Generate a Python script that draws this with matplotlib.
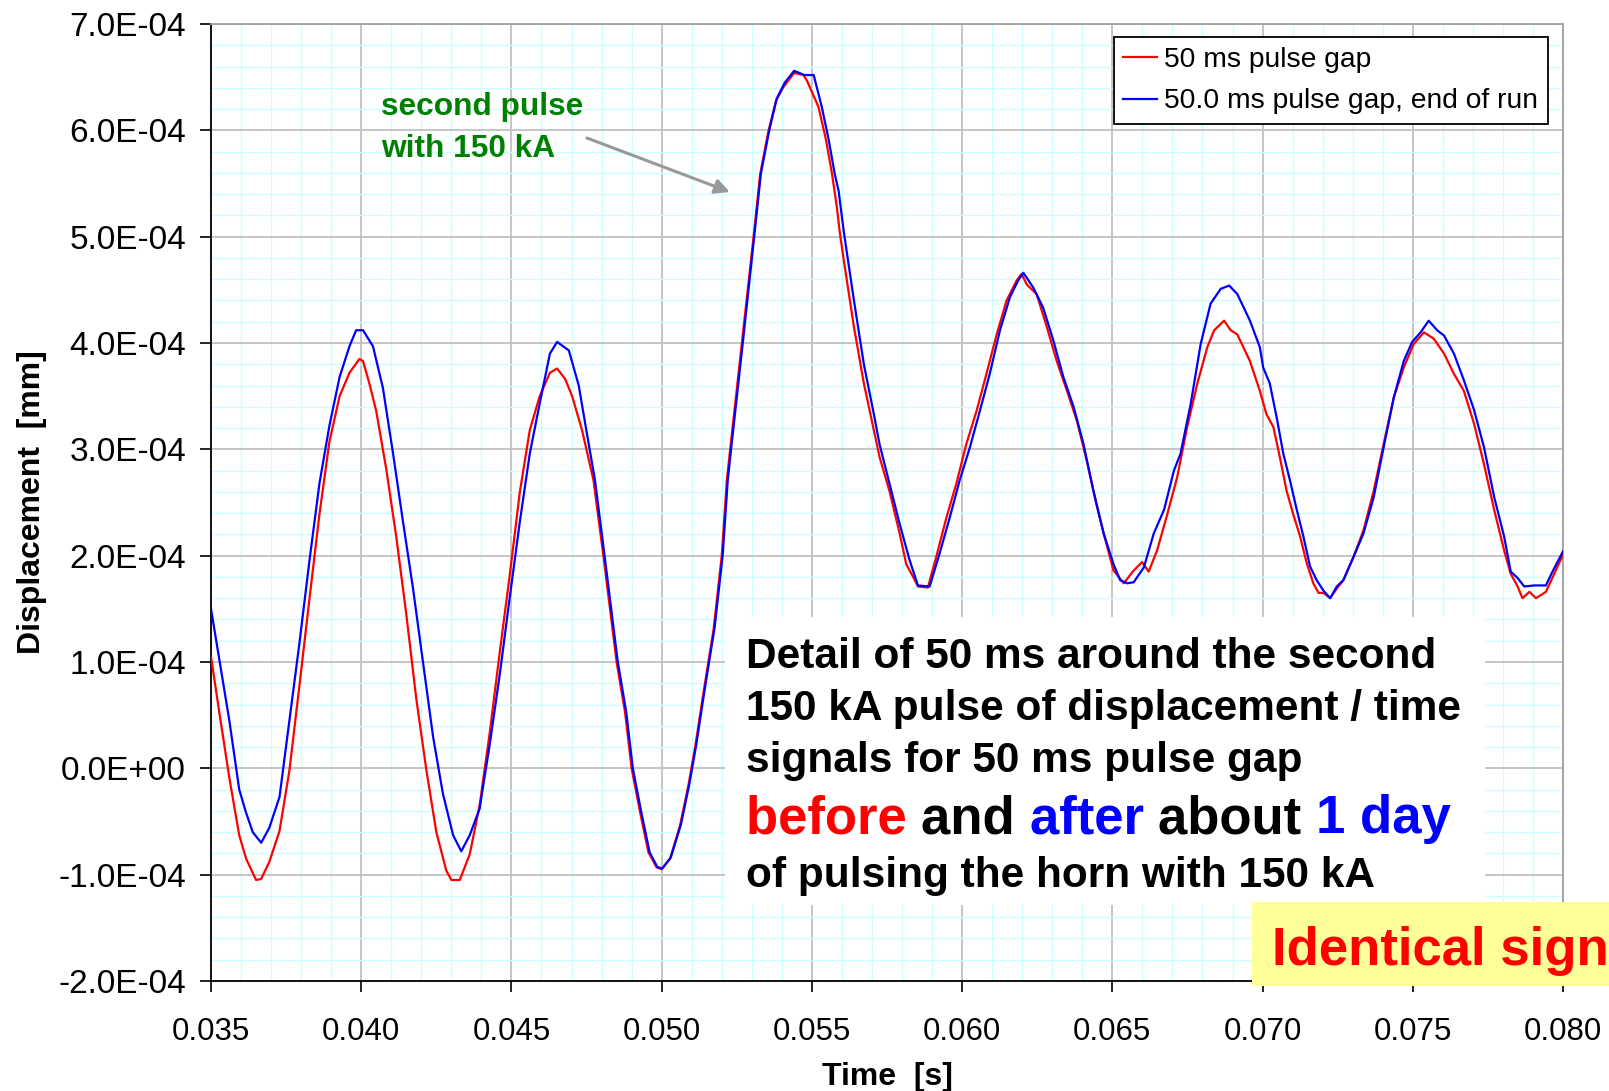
import matplotlib.pyplot as plt
import matplotlib.patches as patches
from matplotlib.ticker import MultipleLocator, FormatStrFormatter

plt.rcParams['font.family'] = 'Liberation Sans'

# time in ms, displacement in units of 1e-4 mm
t_before = [35.00, 35.28, 35.61, 35.94, 36.17, 36.50, 36.67, 36.94, 37.28, 37.61,
            37.94, 38.28, 38.61, 38.94, 39.28, 39.61, 39.94, 40.06, 40.28, 40.50,
            40.83, 41.17, 41.50, 41.83, 42.17, 42.50, 42.83, 43.00, 43.28, 43.61,
            43.94, 44.28, 44.61, 44.94, 45.28, 45.61, 45.94, 46.28, 46.52, 46.79,
            47.02, 47.35, 47.73, 48.06, 48.50, 48.78, 49.00, 49.28, 49.56, 49.83,
            50.00, 50.28, 50.61, 50.89, 51.12, 51.39, 51.73, 52.00, 52.17, 52.28,
            52.67, 53.06, 53.28, 53.56, 53.81, 54.06, 54.41, 54.72, 54.83, 55.22,
            55.47, 55.67, 55.83, 55.92, 56.06, 56.40, 56.73, 57.07, 57.25, 57.58,
            57.92, 58.14, 58.37, 58.53, 58.86, 59.14, 59.48, 59.81, 60.14, 60.48,
            60.81, 61.15, 61.48, 61.82, 61.98, 62.15, 62.48, 62.82, 63.15, 63.49,
            63.82, 64.15, 64.49, 64.71, 65.04, 65.38, 65.71, 65.99, 66.21, 66.49,
            66.83, 67.16, 67.49, 67.83, 68.16, 68.39, 68.72, 68.94, 69.16, 69.58,
            69.91, 70.13, 70.36, 70.58, 70.80, 71.02, 71.25, 71.47, 71.69, 71.86,
            72.03, 72.25, 72.47, 72.69, 73.03, 73.36, 73.70, 74.03, 74.37, 74.70,
            75.03, 75.37, 75.70, 76.04, 76.37, 76.70, 77.04, 77.37, 77.71, 78.04,
            78.26, 78.49, 78.65, 78.88, 79.10, 79.43, 79.71, 80.00]
d_before = [1.05, 0.52, -0.09, -0.63, -0.85, -1.05, -1.04, -0.88, -0.59, -0.02,
            0.77, 1.60, 2.39, 3.07, 3.50, 3.72, 3.85, 3.83, 3.61, 3.36,
            2.82, 2.17, 1.45, 0.66, -0.02, -0.60, -0.96, -1.05, -1.05, -0.81,
            -0.35, 0.34, 1.09, 1.81, 2.60, 3.18, 3.50, 3.72, 3.76, 3.66,
            3.50, 3.18, 2.71, 2.00, 1.00, 0.53, 0.00, -0.41, -0.79, -0.93,
            -0.95, -0.85, -0.54, -0.16, 0.21, 0.71, 1.31, 2.00, 2.71, 3.00,
            4.00, 5.00, 5.59, 6.00, 6.28, 6.41, 6.54, 6.52, 6.47, 6.22,
            5.91, 5.59, 5.28, 5.06, 4.78, 4.15, 3.62, 3.17, 2.93, 2.61,
            2.21, 1.92, 1.80, 1.71, 1.70, 1.99, 2.36, 2.68, 3.05, 3.36,
            3.71, 4.08, 4.40, 4.59, 4.65, 4.55, 4.46, 4.15, 3.83, 3.55,
            3.27, 2.89, 2.46, 2.21, 1.86, 1.74, 1.86, 1.94, 1.85, 2.05,
            2.39, 2.74, 3.21, 3.62, 3.96, 4.12, 4.21, 4.12, 4.08, 3.83,
            3.55, 3.33, 3.21, 2.92, 2.61, 2.39, 2.18, 1.93, 1.74, 1.65,
            1.65, 1.60, 1.69, 1.77, 1.99, 2.24, 2.61, 3.05, 3.49, 3.77,
            3.99, 4.10, 4.04, 3.90, 3.71, 3.55, 3.24, 2.86, 2.43, 2.05,
            1.83, 1.71, 1.60, 1.66, 1.60, 1.66, 1.83, 2.01]

t_after = [35.00, 35.28, 35.61, 35.94, 36.17, 36.39, 36.67, 36.94, 37.28, 37.61,
           37.94, 38.28, 38.61, 38.94, 39.28, 39.61, 39.83, 40.06, 40.39, 40.72,
           41.06, 41.39, 41.72, 42.06, 42.39, 42.72, 43.06, 43.33, 43.61, 43.94,
           44.28, 44.61, 44.94, 45.28, 45.61, 45.94, 46.28, 46.52, 46.91, 47.24,
           47.45, 47.78, 48.10, 48.54, 48.82, 49.04, 49.32, 49.60, 49.86, 50.02,
           50.30, 50.64, 50.92, 51.15, 51.42, 51.76, 52.03, 52.20, 52.31, 52.70,
           53.08, 53.30, 53.58, 53.83, 54.10, 54.41, 54.75, 55.06, 55.33, 55.56,
           55.76, 55.89, 56.06, 56.40, 56.73, 57.07, 57.25, 57.58, 57.92, 58.25,
           58.53, 58.92, 59.25, 59.59, 59.92, 60.26, 60.59, 60.92, 61.26, 61.59,
           61.87, 62.04, 62.37, 62.70, 63.04, 63.37, 63.71, 64.04, 64.37, 64.71,
           65.04, 65.26, 65.49, 65.71, 66.05, 66.38, 66.72, 67.05, 67.27, 67.61,
           67.94, 68.27, 68.61, 68.89, 69.16, 69.58, 69.91, 70.02, 70.24, 70.47,
           70.69, 70.91, 71.14, 71.36, 71.58, 71.80, 72.03, 72.25, 72.47, 72.69,
           73.03, 73.36, 73.70, 74.03, 74.37, 74.70, 74.98, 75.26, 75.53, 75.81,
           76.04, 76.37, 76.70, 77.04, 77.37, 77.71, 78.04, 78.26, 78.49, 78.71,
           79.04, 79.43, 79.65, 80.00]
d_after = [1.50, 1.02, 0.45, -0.20, -0.42, -0.60, -0.70, -0.56, -0.27, 0.45,
           1.17, 1.96, 2.68, 3.22, 3.68, 3.97, 4.12, 4.12, 3.97, 3.58,
           2.96, 2.32, 1.70, 0.99, 0.30, -0.24, -0.63, -0.78, -0.63, -0.38,
           0.23, 0.88, 1.60, 2.32, 2.96, 3.43, 3.90, 4.01, 3.93, 3.60,
           3.25, 2.71, 2.00, 1.00, 0.53, 0.00, -0.41, -0.79, -0.93, -0.94,
           -0.84, -0.53, -0.15, 0.22, 0.72, 1.32, 2.00, 2.71, 3.00, 4.00,
           5.00, 5.59, 6.00, 6.30, 6.45, 6.56, 6.52, 6.52, 6.22, 5.91,
           5.59, 5.43, 5.05, 4.40, 3.80, 3.32, 3.05, 2.68, 2.30, 1.96,
           1.72, 1.71, 2.02, 2.36, 2.71, 3.02, 3.36, 3.71, 4.12, 4.43,
           4.59, 4.66, 4.52, 4.33, 4.02, 3.68, 3.40, 3.05, 2.61, 2.21,
           1.92, 1.77, 1.74, 1.75, 1.89, 2.21, 2.43, 2.80, 2.96, 3.43,
           3.99, 4.37, 4.51, 4.54, 4.46, 4.21, 3.96, 3.77, 3.62, 3.30,
           2.96, 2.71, 2.43, 2.18, 1.90, 1.77, 1.67, 1.60, 1.71, 1.77,
           1.99, 2.21, 2.55, 3.02, 3.49, 3.83, 4.01, 4.10, 4.21, 4.12,
           4.07, 3.90, 3.65, 3.37, 3.02, 2.55, 2.18, 1.85, 1.79, 1.71,
           1.72, 1.72, 1.85, 2.04]

label_before = '50 ms pulse gap'
label_after = '50.0 ms pulse gap, end of run'

W, H = 1609, 1091
fig = plt.figure(figsize=(W / 100, H / 100), dpi=100)
ax = fig.add_axes([211 / W, 1 - 981 / H, 1352 / W, 957 / H])

ax.plot([t * 1e-3 for t in t_before], [d * 1e-4 for d in d_before],
        color='#ff0000', lw=1.6, label=label_before, zorder=3)
ax.plot([t * 1e-3 for t in t_after], [d * 1e-4 for d in d_after],
        color='#0000ff', lw=1.6, label=label_after, zorder=3)

ax.set_xlim(0.035, 0.080)
ax.set_ylim(-2e-4, 7e-4)
ax.xaxis.set_major_locator(MultipleLocator(0.005))
ax.xaxis.set_minor_locator(MultipleLocator(0.001))
ax.yaxis.set_major_locator(MultipleLocator(1e-4))
ax.yaxis.set_minor_locator(MultipleLocator(2e-5))
ax.xaxis.set_major_formatter(FormatStrFormatter('%.3f'))
ax.yaxis.set_major_formatter(FormatStrFormatter('%.1E'))

ax.set_axisbelow(True)
ax.grid(which='minor', color='#ccffff', lw=1.0)
ax.grid(which='major', color='#c0c0c0', lw=1.3)
ax.tick_params(which='major', direction='out', length=8, width=1.2,
               colors='black')
ax.tick_params(axis='x', pad=18, labelsize=22.5)
ax.tick_params(axis='y', pad=10, labelsize=24)
ax.tick_params(which='minor', length=0)
for side in ('left', 'bottom'):
    ax.spines[side].set_color('black')
    ax.spines[side].set_linewidth(1.3)
for side in ('top', 'right'):
    ax.spines[side].set_color('#a0a0a0')
    ax.spines[side].set_linewidth(1.3)

ax.set_xlabel('Time  [s]', fontsize=23, fontweight='bold', labelpad=11)
ax.set_ylabel('Displacement  [mm]', fontsize=23, fontweight='bold', labelpad=8)

leg = ax.legend(loc='upper right', bbox_to_anchor=(0.989, 0.9864),
                borderaxespad=0, fontsize=20.3, fancybox=False, framealpha=1,
                edgecolor='black', handlelength=1.2, handletextpad=0.25,
                borderpad=0.35, labelspacing=0.55)
leg.get_frame().set_linewidth(1.3)

# pulse annotation
ax.text(0.04066, 6.144e-4, 'second pulse', color='#008000', fontsize=22.8,
        fontweight='bold', va='baseline')
ax.text(0.04066, 5.749e-4, 'with 150 kA', color='#008000', fontsize=22.8,
        fontweight='bold', va='baseline')
ax.annotate('', xy=(0.05227, 5.42e-4), xytext=(0.04751, 5.928e-4),
            arrowprops=dict(arrowstyle='-|>', color='#999999', lw=2.2,
                            mutation_scale=22, shrinkA=0, shrinkB=0))

# explanatory box
ax.add_patch(patches.Rectangle((725 / W, 1 - 905 / H), 760 / W, 288 / H,
                               transform=fig.transFigure, facecolor='white',
                               edgecolor='none', zorder=5, clip_on=False))
box_lines = ['Detail of 50 ms around the second',
             '150 kA pulse of displacement / time',
             'signals for 50 ms pulse gap']
for i, line in enumerate(box_lines):
    ax.text(746 / W, 1 - (668 + 52 * i) / H, line, transform=fig.transFigure,
            fontsize=30.5, fontweight='bold', va='baseline', zorder=6)
ax.text(746 / W, 1 - 887 / H, 'of pulsing the horn with 150 kA',
        transform=fig.transFigure, fontsize=30.5, fontweight='bold',
        va='baseline', zorder=6)

parts = [('before ', '#ff0000'), ('and ', 'black'), ('after ', '#0000ff'),
         ('about ', 'black'), ('1 day', '#0000ff')]
prev = ax.text(746 / W, 1 - 833 / H, parts[0][0], transform=fig.transFigure,
               fontsize=38, fontweight='bold', color=parts[0][1],
               va='baseline', zorder=6)
for word, col in parts[1:]:
    prev = ax.annotate(word, xy=(1, 0), xycoords=prev, va='bottom', ha='left',
                       fontsize=38, fontweight='bold', color=col, zorder=6,
                       annotation_clip=False)

ax.add_patch(patches.Rectangle((1252 / W, 1 - 986 / H), 360 / W, 84 / H,
                               transform=fig.transFigure, facecolor='#ffff99',
                               edgecolor='none', zorder=7, clip_on=False))
ax.text(1272 / W, 1 - 965 / H, 'Identical sign', transform=fig.transFigure,
        fontsize=38, fontweight='bold', color='#ff0000', va='baseline',
        zorder=8, clip_on=False)

fig.savefig('out.png', dpi=100)
